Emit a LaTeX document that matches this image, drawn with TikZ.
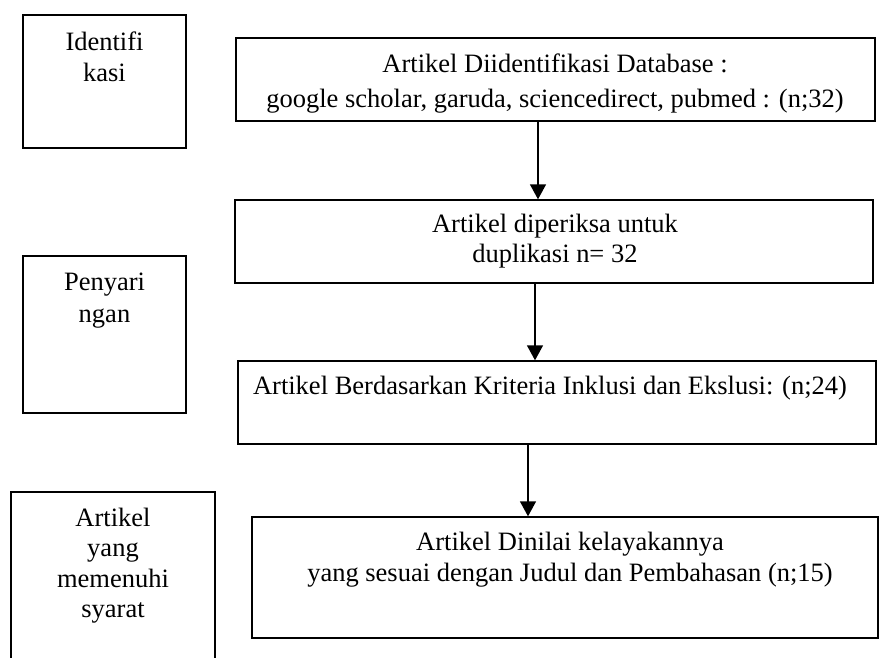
\documentclass[tikz,border=0pt]{standalone}
\usepackage{fontspec}
\setmainfont{Liberation Serif}
\usetikzlibrary{arrows.meta}
\tikzset{
  box/.style={draw, line width=1.4pt, inner sep=0pt},
  txt/.style={anchor=base, inner sep=0pt, font=\fontsize{26.5}{30}\selectfont},
  arr/.style={line width=1.4pt, -{Triangle[width=16pt,length=15pt]}},
}
\begin{document}
\begin{tikzpicture}[x=1pt,y=-1pt]
\useasboundingbox (0,0) rectangle (879,657);
% left boxes
\node[box, minimum width=163pt, minimum height=133pt] (l1) at (104.5,81.5) {};
\node[box, minimum width=163pt, minimum height=157pt] (l2) at (104.5,334.5) {};
\draw[line width=1.4pt] (11,662) coordinate (l3a) -- (11,492) -- (215,492) -- (215,662) coordinate (l3b);
\node[txt] (l1a) at (104.5,50) {Identifi};
\node[txt] (l1b) at (104.5,81) {kasi};
\node[txt] (l2a) at (104.5,290) {Penyari};
\node[txt] (l2b) at (104.5,322) {ngan};
\node[txt] (l3t1) at (113,526) {Artikel};
\node[txt] (l3t2) at (113,556) {yang};
\node[txt] (l3t3) at (113,587) {memenuhi};
\node[txt] (l3t4) at (113,617) {syarat};
% right boxes
\node[box, minimum width=639pt, minimum height=83pt] (b1) at (555.5,79.5) {};
\node[box, minimum width=638pt, minimum height=83pt] (b2) at (554,241.5) {};
\node[box, minimum width=638pt, minimum height=83pt] (b3) at (557,402.5) {};
\node[box, minimum width=626pt, minimum height=121pt] (b4) at (565,577.5) {};
\node[txt] (b1a) at (555,72) {Artikel Diidentifikasi Database :};
\node[txt] (b1b) at (555,107) {google scholar, garuda, sciencedirect, pubmed : (n;32)};
\node[txt] (b2a) at (555,232) {Artikel diperiksa untuk};
\node[txt] (b2b) at (555,262) {duplikasi n= 32};
\node[txt] (b3a) at (550,394) {Artikel Berdasarkan Kriteria Inklusi dan Ekslusi: (n;24)};
\node[txt] (b4a) at (570,550) {Artikel Dinilai kelayakannya};
\node[txt] (b4b) at (570,581) {yang sesuai dengan Judul dan Pembahasan (n;15)};
% arrows
\draw[arr] (b1.south -| 538,0) -- (b2.north -| 538,0);
\draw[arr] (b2.south -| 535,0) -- (b3.north -| 535,0);
\draw[arr] (b3.south -| 528,0) -- (b4.north -| 528,0);
\end{tikzpicture}
\end{document}
